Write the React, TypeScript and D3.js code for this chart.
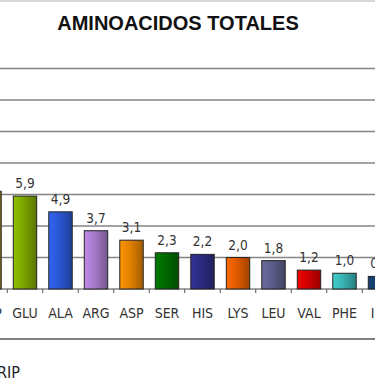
import React from "react";
import * as d3 from "d3";

// amino acids (chart is cropped: HYP on the left and ILE on the right are only partly visible)
const categories = ["HYP", "GLU", "ALA", "ARG", "ASP", "SER", "HIS", "LYS", "LEU", "VAL", "PHE", "ILE"];
const values = [6.2, 5.9, 4.9, 3.7, 3.1, 2.3, 2.2, 2.0, 1.8, 1.2, 1.0, 0.8];
const yTicks = [2, 4, 6, 8, 10, 12, 14];

const barColors = [
    "#b89020", "#7aa300", "#2a55d0", "#a478c8", "#e08000", "#006800",
    "#2b2b80", "#e05a00", "#5c5c88", "#d00000", "#38b0b0", "#153a68"
];

const W = 375;
const H = 390;

const fmt = (v: number) => v.toFixed(1).replace(".", ",");

const App = () => {
    const step = 35.5;
    const x0 = -28.25;

    const x = d3
        .scaleBand<string>()
        .domain(categories)
        .range([x0, x0 + step * categories.length])
        .paddingInner(0.34)
        .paddingOuter(0.17);

    const y = d3.scaleLinear().domain([0, 14]).range([289, 68.5]);

    const labelFont = "'DejaVu Sans Condensed', 'DejaVu Sans', sans-serif";

    return (
        <svg width={W} height={H} style={{ position: "absolute", left: 0, top: 0, background: "#fff" }}>
            <defs>
                {barColors.map((c, i) => (
                    <linearGradient key={i} id={"bar" + i} x1="0" x2="1" y1="0" y2="0">
                        <stop offset="0%" stopColor={d3.color(c)!.brighter(0.45).formatHex()} />
                        <stop offset="45%" stopColor={c} />
                        <stop offset="100%" stopColor={d3.color(c)!.darker(0.9).formatHex()} />
                    </linearGradient>
                ))}
            </defs>

            {/* top frame line */}
            <line x1={0} x2={W} y1={1} y2={1} stroke="#d8d8d8" strokeWidth={2} />

            <text
                x={178}
                y={30}
                textAnchor="middle"
                fontFamily="'Liberation Sans', Arial, sans-serif"
                fontWeight="bold"
                fontSize={20}
                fill="#111"
            >
                AMINOACIDOS TOTALES
            </text>

            {/* gridlines */}
            {yTicks.map(t => (
                <line key={t} x1={0} x2={W} y1={y(t)} y2={y(t)} stroke="#858585" strokeWidth={1.5} />
            ))}
            <line x1={0} x2={W} y1={y(0)} y2={y(0)} stroke="#858585" strokeWidth={1.5} />

            {/* category ticks */}
            {categories.map(c => (
                <line
                    key={c}
                    x1={x(c)! - (step - x.bandwidth()) / 2}
                    x2={x(c)! - (step - x.bandwidth()) / 2}
                    y1={y(0)}
                    y2={y(0) + 4}
                    stroke="#555"
                    strokeWidth={1}
                />
            ))}

            {/* bars */}
            {categories.map((c, i) => (
                <rect
                    key={c}
                    x={x(c)}
                    y={y(values[i])}
                    width={x.bandwidth()}
                    height={y(0) - y(values[i])}
                    fill={`url(#bar${i})`}
                    stroke="#222"
                    strokeWidth={1}
                />
            ))}

            {/* value labels */}
            {categories.map((c, i) => (
                <text
                    key={c}
                    x={x(c)! + x.bandwidth() / 2}
                    y={y(values[i]) - 8}
                    textAnchor="middle"
                    fontFamily={labelFont}
                    fontSize={13.5}
                    fill="#333"
                >
                    {fmt(values[i])}
                </text>
            ))}

            {/* category labels */}
            {categories.map(c => (
                <text
                    key={c}
                    x={x(c)! + x.bandwidth() / 2}
                    y={318}
                    textAnchor="middle"
                    fontFamily={labelFont}
                    fontSize={14}
                    fill="#333"
                >
                    {c}
                </text>
            ))}

            {/* plot frame bottom */}
            <line x1={0} x2={W} y1={339} y2={339} stroke="#555" strokeWidth={1.5} />

            <text x={-3} y={378} fontFamily={labelFont} fontSize={16} fill="#222">
                RIP
            </text>
        </svg>
    );
};

export default App;
